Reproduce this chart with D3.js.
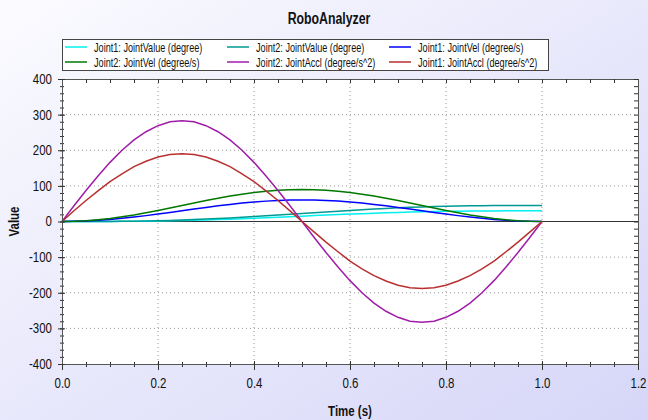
<!DOCTYPE html>
<html>
<head>
<meta charset="utf-8">
<script src="https://cdn.jsdelivr.net/npm/d3@7"></script>
<style>
    body { margin: 0; }
    svg text { font-family: "Liberation Sans", Arial, sans-serif; fill: #111; }
</style>
</head>
<body>
<svg id="chart" width="648" height="420"></svg>
<script>
var width = 648,
    height = 420;

// Values (time in s, one point every 0.025 s)
var times = [0, 0.025, 0.05, 0.075, 0.1, 0.125, 0.15, 0.175, 0.2, 0.225,
             0.25, 0.275, 0.3, 0.325, 0.35, 0.375, 0.4, 0.425, 0.45, 0.475,
             0.5, 0.525, 0.55, 0.575, 0.6, 0.625, 0.65, 0.675, 0.7, 0.725,
             0.75, 0.775, 0.8, 0.825, 0.85, 0.875, 0.9, 0.925, 0.95, 0.975, 1.0];
var joint1_value = [0, 0, 0, 0.1, 0.2, 0.4, 0.6, 1, 1.5, 2,
                    2.7, 3.5, 4.5, 5.5, 6.6, 7.9, 9.2, 10.6, 12, 13.5,
                    15, 16.5, 18, 19.4, 20.8, 22.1, 23.4, 24.5, 25.5, 26.5,
                    27.3, 28, 28.5, 29, 29.4, 29.6, 29.8, 29.9, 30, 30, 30];
var joint2_value = [0, 0, 0, 0.1, 0.3, 0.6, 1, 1.5, 2.2, 3,
                    4.1, 5.3, 6.7, 8.2, 10, 11.8, 13.8, 15.9, 18, 20.3,
                    22.5, 24.7, 27, 29.1, 31.2, 33.2, 35, 36.8, 38.3, 39.7,
                    40.9, 42, 42.8, 43.5, 44, 44.4, 44.7, 44.9, 45, 45, 45];
var joint1_vel = [0, 0.4, 1.5, 3.3, 5.8, 8.9, 12.5, 16.5, 21, 25.5,
                  30, 35, 39.5, 44, 48, 51.6, 54.7, 57.2, 59, 60.1,
                  60.5, 60.1, 59, 57.2, 54.7, 51.6, 48, 44, 39.5, 35,
                  30, 25.5, 21, 16.5, 12.5, 8.9, 5.8, 3.3, 1.5, 0.4, 0];
var joint2_vel = [0, 0.6, 2.2, 4.9, 8.6, 13.2, 18.5, 24.6, 31, 38,
                  45, 52, 59, 65.4, 71.5, 76.8, 81.4, 85.1, 87.8, 89.4,
                  90, 89.4, 87.8, 85.1, 81.4, 76.8, 71.5, 65.4, 59, 52,
                  45, 38, 31, 24.6, 18.5, 13.2, 8.6, 4.9, 2.2, 0.6, 0];
var joint2_accl = [0, 44, 87, 128, 166, 200, 229, 252, 269, 280,
                   283, 280, 269, 252, 229, 200, 166, 128, 87, 44,
                   0, -44, -87, -128, -166, -200, -229, -252, -269, -280,
                   -283, -280, -269, -252, -229, -200, -166, -128, -87, -44, 0];
var joint1_accl = [0, 30, 59, 86, 112, 134, 154, 169, 181, 188,
                   190, 188, 181, 169, 154, 134, 112, 86, 59, 30,
                   0, -29, -58, -85, -111, -133, -152, -167, -179, -186,
                   -188, -186, -179, -167, -152, -133, -111, -85, -58, -29, 0];

var series_names = ["Joint1: JointValue (degree)", "Joint2: JointValue (degree)", "Joint1: JointVel (degree/s)",
                    "Joint2: JointVel (degree/s)", "Joint2: JointAccl (degree/s^2)", "Joint1: JointAccl (degree/s^2)"];
var series_values = [joint1_value, joint2_value, joint1_vel, joint2_vel, joint2_accl, joint1_accl];
var series_colors = ["#00f0f0", "#009a94", "#0000ff", "#007800", "#a01ca8", "#b83030"];

var x_ticks = [0, 0.2, 0.4, 0.6, 0.8, 1.0, 1.2];
var y_ticks = [-400, -300, -200, -100, 0, 100, 200, 300, 400];

// plot frame (don't use "top", it's window.top)
var p_left = 62, p_right = 638, p_top = 79, p_bottom = 364;

var x = d3.scaleLinear().domain([0, 1.2]).range([p_left, p_right]);
var y = d3.scaleLinear().domain([-400, 400]).range([p_bottom, p_top]);

var svg = d3.select("#chart");

// Background gradient
var grad = svg.append("defs").append("linearGradient")
    .attr("id", "bg")
    .attr("x1", "0%").attr("y1", "0%")
    .attr("x2", "100%").attr("y2", "100%");
grad.append("stop").attr("offset", "0%").attr("stop-color", "#fbfbff");
grad.append("stop").attr("offset", "100%").attr("stop-color", "#d6d6f8");
svg.append("rect").attr("width", width).attr("height", height).attr("fill", "url(#bg)");

// Plot area
svg.append("rect")
    .attr("x", p_left).attr("y", p_top)
    .attr("width", p_right - p_left).attr("height", p_bottom - p_top)
    .attr("fill", "#fff");

// Dotted grid
svg.append("g")
    .selectAll("line")
    .data(x_ticks.slice(1, -1))
    .join("line")
    .attr("x1", function (d) { return x(d); })
    .attr("x2", function (d) { return x(d); })
    .attr("y1", p_top).attr("y2", p_bottom)
    .attr("stroke", "#999").attr("stroke-dasharray", "1,3");
svg.append("g")
    .selectAll("line")
    .data(y_ticks.slice(1, -1))
    .join("line")
    .attr("x1", p_left).attr("x2", p_right)
    .attr("y1", function (d) { return y(d); })
    .attr("y2", function (d) { return y(d); })
    .attr("stroke", "#999").attr("stroke-dasharray", "1,3");

// Zero line
svg.append("line")
    .attr("x1", p_left).attr("x2", p_right)
    .attr("y1", y(0)).attr("y2", y(0))
    .attr("stroke", "#333");

// Series
var line = d3.line()
    .x(function (d, i) { return x(times[i]); })
    .y(function (d) { return y(d); });
svg.append("g")
    .selectAll("path")
    .data(series_values)
    .join("path")
    .attr("d", function (d) { return line(d); })
    .attr("fill", "none")
    .attr("stroke", function (d, i) { return series_colors[i]; })
    .attr("stroke-width", 1.5);

// Axes (ticks cross the frame on left/bottom, point inwards on top/right)
var x_minor = d3.range(0, 25).map(function (i) { return i * 0.05; });
var y_minor = d3.range(0, 41).map(function (i) { return -400 + i * 20; });

svg.append("g").attr("transform", "translate(0," + p_top + ")")
    .call(d3.axisBottom(x).tickValues(x_minor).tickSize(4).tickFormat(""));
svg.append("g").attr("transform", "translate(" + p_right + ",0)")
    .call(d3.axisLeft(y).tickValues(y_minor).tickSize(4).tickFormat(""));

svg.append("g").attr("transform", "translate(0," + p_bottom + ")")
    .call(d3.axisBottom(x).tickValues(x_minor).tickSize(3).tickFormat(""))
    .call(function (g) { g.selectAll(".tick line").attr("y1", -2); });
svg.append("g").attr("class", "labels").attr("transform", "translate(0," + p_bottom + ")")
    .call(d3.axisBottom(x).tickValues(x_ticks).tickSize(6).tickPadding(8).tickFormat(d3.format(".1f")))
    .call(function (g) { g.selectAll(".tick line").attr("y1", -3); });

svg.append("g").attr("transform", "translate(" + p_left + ",0)")
    .call(d3.axisLeft(y).tickValues(y_minor).tickSize(2).tickFormat(""))
    .call(function (g) { g.selectAll(".tick line").attr("x1", 2); });
svg.append("g").attr("class", "labels").attr("transform", "translate(" + p_left + ",0)")
    .call(d3.axisLeft(y).tickValues(y_ticks).tickSize(4).tickPadding(6)
        .tickFormat(function (d) { return String(d); }))   // plain hyphen like the original
    .call(function (g) { g.selectAll(".tick line").attr("x1", 3); });

svg.selectAll(".domain").attr("stroke", "#555");
svg.selectAll(".tick line").attr("stroke", "#333");
svg.selectAll(".labels .tick text").style("font-size", "14px").attr("fill", "#111");

// Titles
svg.append("text")
    .attr("x", 329).attr("y", 24)
    .attr("class", "big")
    .attr("text-anchor", "middle")
    .style("font-size", "16px").style("font-weight", "bold")
    .text("RoboAnalyzer");
svg.append("text")
    .attr("x", (p_left + p_right) / 2).attr("y", 416)
    .attr("text-anchor", "middle")
    .style("font-size", "14px").style("font-weight", "bold")
    .text("Time (s)");
svg.append("text")
    .attr("x", 19).attr("y", (p_top + p_bottom) / 2)
    .attr("class", "vlabel")
    .attr("text-anchor", "middle")
    .style("font-size", "14px").style("font-weight", "bold")
    .text("Value");

// Legend
var legend = svg.append("g");
legend.append("rect")
    .attr("x", 62.5).attr("y", 39.5)
    .attr("width", 486).attr("height", 31)
    .attr("fill", "#fff").attr("stroke", "#444");
var col_x = [65, 227, 389];
var row_y = [47, 62];
var item = legend.selectAll("g")
    .data(series_names)
    .join("g")
    .attr("transform", function (d, i) {
        return "translate(" + col_x[i % 3] + "," + row_y[Math.floor(i / 3)] + ")";
    });
item.append("line")
    .attr("x1", 0).attr("x2", 22)
    .attr("stroke", function (d, i) { return series_colors[i]; })
    .attr("stroke-width", 1.5);
item.append("text")
    .attr("x", 29).attr("y", 4.5)
    .attr("class", "leg")
    .style("font-size", "12.5px")
    .text(function (d) { return d; });

// The reference uses a narrow face: squeeze every text horizontally
svg.selectAll("text").each(function () {
    var t = d3.select(this);
    var tx = +t.attr("x") || 0,
        ty = +t.attr("y") || 0;
    var rot = t.classed("vlabel") ? " rotate(-90)" : "";
    var sx = t.classed("leg") ? 0.73 : t.classed("big") ? 0.77 : 0.82;
    t.attr("x", 0).attr("y", 0)
        .attr("transform", "translate(" + tx + "," + ty + ")" + rot + " scale(" + sx + ",1)");
});
</script>
</body>
</html>
